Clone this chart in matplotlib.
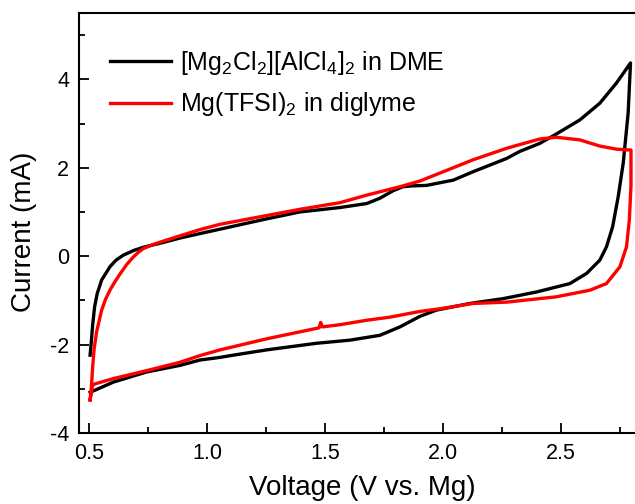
import matplotlib
matplotlib.use("Agg")
import matplotlib.pyplot as plt
from matplotlib.ticker import MultipleLocator

plt.rcParams["font.family"] = ["Liberation Sans", "DejaVu Sans"]
plt.rcParams["mathtext.fontset"] = "custom"
plt.rcParams["mathtext.rm"] = "Liberation Sans"
plt.rcParams["mathtext.it"] = "Liberation Sans"
plt.rcParams["mathtext.bf"] = "Liberation Sans:bold"

# [Mg2Cl2][AlCl4]2 in DME, anodic then cathodic sweep
dme_v = [0.505, 0.510, 0.516, 0.524, 0.535, 0.554, 0.589, 0.615, 0.645, 0.690,
         0.730, 0.815, 0.886, 0.970, 1.055, 1.250, 1.394, 1.564, 1.677, 1.733,
         1.789, 1.830, 1.870, 1.930, 2.044, 2.128, 2.185, 2.270, 2.326, 2.410,
         2.467, 2.580, 2.665, 2.736, 2.795,
         2.785, 2.764, 2.743, 2.719, 2.693, 2.665, 2.609, 2.538, 2.397, 2.256,
         2.114, 1.973, 1.903, 1.818, 1.733, 1.606, 1.465, 1.253, 1.111, 1.055,
         0.970, 0.886, 0.744, 0.603, 0.518, 0.505]
dme_i = [-2.24, -1.95, -1.55, -1.15, -0.85, -0.54, -0.24, -0.09, 0.02, 0.13,
         0.20, 0.31, 0.41, 0.51, 0.61, 0.84, 1.00, 1.10, 1.19, 1.31,
         1.48, 1.57, 1.59, 1.60, 1.72, 1.91, 2.03, 2.21, 2.37, 2.55,
         2.72, 3.08, 3.46, 3.92, 4.37,
         3.24, 2.10, 1.35, 0.66, 0.21, -0.09, -0.39, -0.62, -0.81, -0.96,
         -1.07, -1.22, -1.36, -1.60, -1.79, -1.90, -1.97, -2.12, -2.24, -2.29,
         -2.35, -2.47, -2.62, -2.85, -3.05, -3.08]

# Mg(TFSI)2 in diglyme
dig_v = [0.505, 0.510, 0.516, 0.522, 0.533, 0.554, 0.570, 0.589, 0.610, 0.631,
         0.660, 0.688, 0.710, 0.730, 0.770, 0.815, 0.886, 0.970, 1.055, 1.394,
         1.564, 1.677, 1.818, 1.903, 2.128, 2.270, 2.410, 2.480, 2.580, 2.665,
         2.736, 2.797,
         2.797, 2.790, 2.778, 2.750, 2.693, 2.623, 2.480, 2.270, 2.128, 1.987,
         1.903, 1.775, 1.677, 1.564, 1.490, 1.482, 1.476, 1.253, 1.111, 1.055,
         0.970, 0.886, 0.744, 0.603, 0.525, 0.515, 0.505]
dig_i = [-3.25, -3.00, -2.50, -2.10, -1.70, -1.22, -0.98, -0.77, -0.58, -0.41,
         -0.19, -0.02, 0.09, 0.17, 0.26, 0.34, 0.46, 0.60, 0.72, 1.06,
         1.21, 1.38, 1.57, 1.70, 2.18, 2.44, 2.65, 2.69, 2.63, 2.49,
         2.42, 2.40,
         1.60, 0.82, 0.21, -0.24, -0.62, -0.77, -0.92, -1.04, -1.07, -1.19,
         -1.25, -1.38, -1.45, -1.55, -1.60, -1.50, -1.62, -1.87, -2.05, -2.12,
         -2.25, -2.40, -2.59, -2.77, -2.89, -2.93, -3.25]

labels = [r"[Mg$_2$Cl$_2$][AlCl$_4$]$_2$ in DME", r"Mg(TFSI)$_2$ in diglyme"]

fig = plt.figure(figsize=(6.35, 5.04), dpi=100)
ax = fig.add_axes([79 / 635, 71 / 504, 556 / 635, 420 / 504])

ax.plot(dme_v, dme_i, color="black", lw=2.4, label=labels[0])
ax.plot(dig_v, dig_i, color="#ff0000", lw=2.4, label=labels[1])

ax.set_xlim(0.458, 2.814)
ax.set_ylim(-4, 5.5)
ax.xaxis.set_minor_locator(MultipleLocator(0.25))
ax.yaxis.set_minor_locator(MultipleLocator(1))
ax.set_xticks([0.5, 1.0, 1.5, 2.0, 2.5])
ax.set_xticklabels(["0.5", "1.0", "1.5", "2.0", "2.5"])
ax.set_yticks([-4, -2, 0, 2, 4])
ax.set_yticklabels(["-4", "-2", "0", "2", "4"])

ax.spines["right"].set_visible(False)
for s in ["left", "bottom", "top"]:
    ax.spines[s].set_linewidth(1.5)
ax.tick_params(which="both", direction="in", width=1.3, labelsize=15.5)
ax.tick_params(which="major", length=7)
ax.tick_params(which="minor", length=4)
ax.tick_params(axis="x", pad=7)
ax.tick_params(axis="y", pad=7)

ax.set_xlabel("Voltage (V vs. Mg)", fontsize=20)
ax.set_ylabel("Current (mA)", fontsize=20)
ax.xaxis.set_label_coords(0.51, -0.1)
ax.yaxis.set_label_coords(-0.075, 0.48)

ax.legend(loc="upper left", bbox_to_anchor=(0.056, 0.915), frameon=False,
          fontsize=18, handlelength=2.45, handletextpad=0.33, labelspacing=0.55,
          borderpad=0, borderaxespad=0)

fig.savefig("out.png", dpi=100)
